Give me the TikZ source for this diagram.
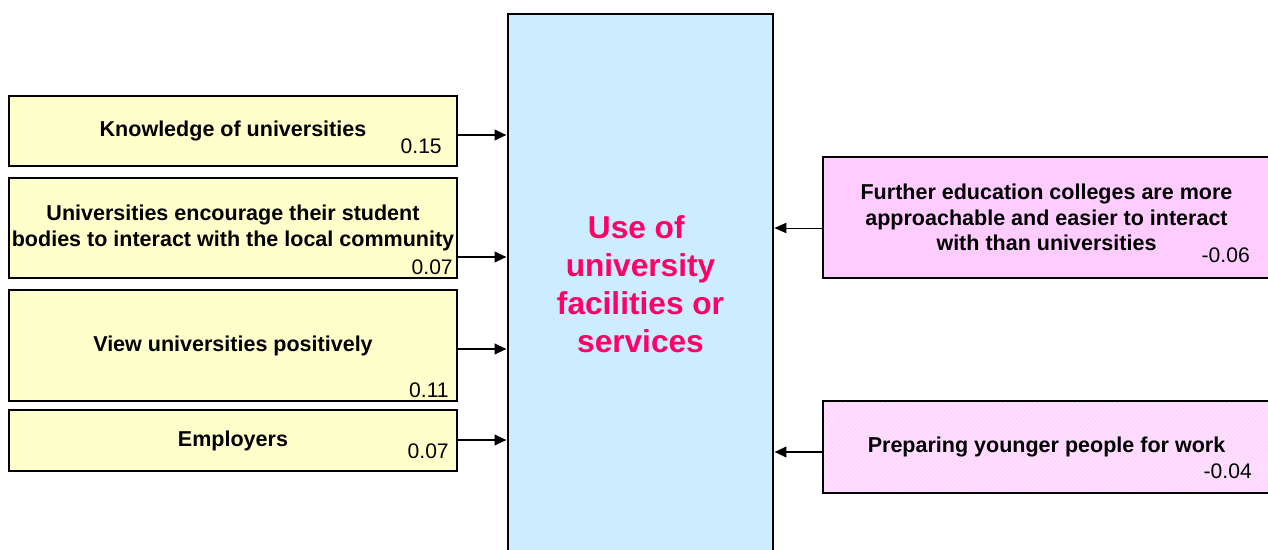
\documentclass[tikz,border=0pt]{standalone}
\usepackage{fontspec}
\setmainfont{Liberation Sans}
\usepackage{tikz}
\usetikzlibrary{positioning,arrows.meta,patterns}
\definecolor{paleyellow}{HTML}{FFFFCC}
\definecolor{paleblue}{HTML}{CCECFF}
\definecolor{palepink}{HTML}{FFCCFF}
\definecolor{hotpink}{HTML}{FF0066}

\begin{document}
\begin{tikzpicture}[
  x=0.025cm,y=-0.025cm,
  factor/.style={draw=black,line width=2pt,fill=paleyellow,inner sep=0pt,align=center,minimum width=11.2cm,font=\bfseries\fontsize{15.3}{19}\selectfont},
  barrier/.style={factor,fill=palepink,minimum width=11.175cm,font=\bfseries\fontsize{15.3}{18}\selectfont},
  outcome/.style={draw=black,line width=2pt,fill=paleblue,inner sep=0pt,align=center,minimum width=6.625cm,minimum height=13.5cm,text=hotpink,font=\bfseries\fontsize{22.5}{27}\selectfont},
  num/.style={inner sep=0pt,font=\fontsize{15}{18}\selectfont,anchor=base east},
  arr/.style={-{Triangle[length=0.3cm,width=0.26cm]},line width=1.8pt},
  thinarr/.style={-{Triangle[length=0.3cm,width=0.26cm]},line width=0.7pt}
]
  \path[use as bounding box] (0,0) rectangle (1268,550);
  \clip (0,0) rectangle (1268,550);
  % outcome
  \node[outcome] (use) at (640.5,284) {Use of\hspace*{6pt}\\university\hspace*{6pt}\\facilities or\hspace*{6pt}\\services};
  % positive factors
  \node[factor,minimum height=1.75cm] (know) at (233,131) {Knowledge of universities};
  \node[factor,minimum height=2.5cm] (enc) at (233,228) {Universities encourage their student\\bodies to interact with the local community};
  \node[factor,minimum height=2.775cm] (view) at (233,345.5) {View universities positively};
  \node[factor,minimum height=1.525cm] (emp) at (233,440.5) {Employers};
  \node[num] (knowv) at (442,154) {0.15};
  \node[num] (encv) at (453,275) {0.07};
  \node[num] (viewv) at (449,397) {0.11};
  \node[num] (empv) at (449,458) {0.07};
  % negative factors
  \node[barrier,minimum height=3.025cm] (fec) at (1046.5,217.5) {Further education colleges are more\\approachable and easier to interact\\with than universities};
  \node[barrier,fill=none,preaction={fill=palepink!60!white},preaction={pattern=north east lines,pattern color=palepink},minimum height=2.3cm] (prep) at (1046.5,447) {Preparing younger people for work};
  \node[num] (fecv) at (1250,263) {-0.06};
  \node[num] (prepv) at (1252,478) {-0.04};
  % paths
  \draw[arr] (know.east |- 0,135) -- (use.west |- 0,135);
  \draw[arr] (enc.east |- 0,257) -- (use.west |- 0,257);
  \draw[arr] (view.east |- 0,349) -- (use.west |- 0,349);
  \draw[arr] (emp.east |- 0,440) -- (use.west |- 0,440);
  \draw[thinarr] (fec.west |- 0,228) -- (use.east |- 0,228);
  \draw[arr] (prep.west |- 0,452) -- (use.east |- 0,452);
\end{tikzpicture}
\end{document}
